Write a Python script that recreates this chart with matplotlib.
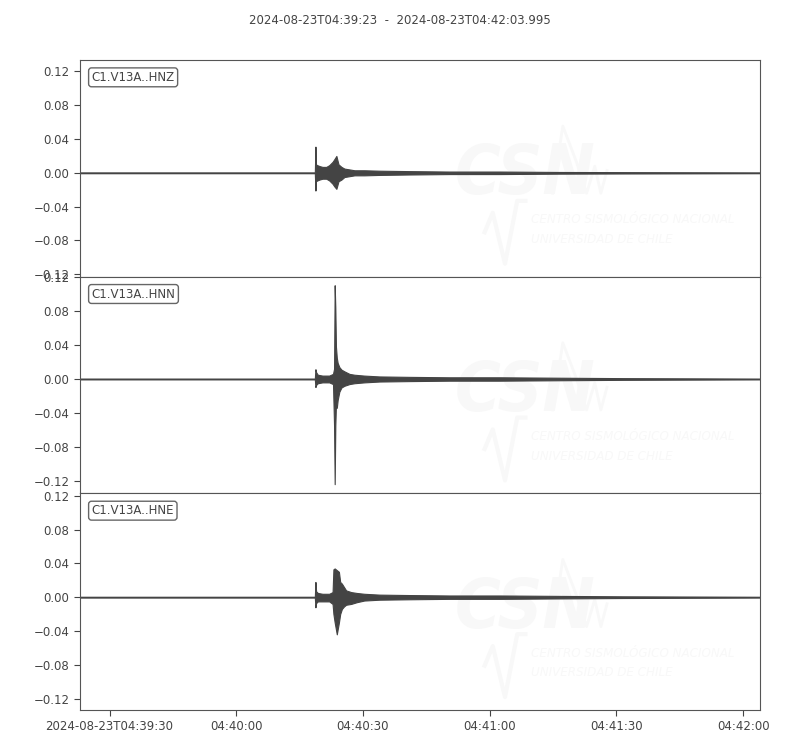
import matplotlib
matplotlib.use("Agg")
import matplotlib.pyplot as plt
import matplotlib.dates as mdates
from matplotlib.ticker import FixedLocator, FuncFormatter
from datetime import datetime, timedelta

# trace start / end
t_start = datetime(2024, 8, 23, 4, 39, 23)
title = "2024-08-23T04:39:23  -  2024-08-23T04:42:03.995"
channels = ["C1.V13A..HNZ", "C1.V13A..HNN", "C1.V13A..HNE"]

# envelopes: seconds after start, upper / lower amplitude
hnz_t = [0, 55.6, 55.74, 55.85, 56.2, 56.7, 57.4, 58.3, 59.0, 59.8, 60.2, 60.7,
         61.2, 61.9, 62.6, 63.8, 65.0, 67.3, 70.9, 78.0, 87.4, 99.3, 113.5, 128.8, 160.99]
hnz_up = [0.0005, 0.0005, 0.031, 0.010, 0.009, 0.008, 0.007, 0.007, 0.009, 0.013, 0.016, 0.020,
          0.010, 0.007, 0.005, 0.004, 0.003, 0.003, 0.0025, 0.002, 0.0015, 0.0015, 0.001, 0.0008, 0.0005]
hnz_lo = [-0.0005, -0.0005, -0.021, -0.010, -0.009, -0.008, -0.007, -0.007, -0.009, -0.013, -0.016, -0.019,
          -0.010, -0.008, -0.005, -0.004, -0.003, -0.003, -0.0025, -0.002, -0.0015, -0.0015, -0.001, -0.0008, -0.0005]

hnn_t = [0, 55.6, 55.74, 55.9, 56.3, 57.4, 59.0, 59.9, 60.15, 60.3, 60.45, 60.6, 60.8,
         61.0, 61.4, 61.9, 62.6, 63.8, 65.0, 67.3, 70.9, 78.0, 87.4, 99.3, 113.5, 128.8, 160.99]
hnn_up = [0.0005, 0.0005, 0.0115, 0.008, 0.005, 0.004, 0.004, 0.006, 0.012, 0.1105, 0.084, 0.038, 0.025,
          0.019, 0.014, 0.011, 0.009, 0.006, 0.005, 0.004, 0.003, 0.0025, 0.002, 0.002, 0.0015, 0.001, 0.0005]
hnn_lo = [-0.0005, -0.0005, -0.0095, -0.007, -0.005, -0.004, -0.004, -0.006, -0.055, -0.124, -0.055, -0.030, -0.034,
          -0.025, -0.015, -0.010, -0.008, -0.006, -0.005, -0.004, -0.003, -0.0025, -0.002, -0.002, -0.0015, -0.001, -0.0005]

hne_t = [0, 55.6, 55.74, 55.9, 56.3, 57.4, 59.0, 59.8, 60.0, 60.3, 60.8, 61.3, 61.6,
         62.0, 62.5, 63.0, 64.2, 65.5, 67.3, 70.9, 78.0, 87.4, 99.3, 113.5, 128.8, 160.99]
hne_up = [0.0005, 0.0005, 0.018, 0.007, 0.005, 0.004, 0.004, 0.006, 0.033, 0.034, 0.032, 0.030, 0.018,
          0.016, 0.012, 0.008, 0.006, 0.005, 0.004, 0.003, 0.0025, 0.002, 0.002, 0.0015, 0.001, 0.0005]
hne_lo = [-0.0005, -0.0005, -0.012, -0.007, -0.005, -0.005, -0.005, -0.008, -0.020, -0.030, -0.044, -0.030, -0.020,
          -0.014, -0.011, -0.009, -0.008, -0.006, -0.004, -0.003, -0.0025, -0.002, -0.002, -0.0015, -0.001, -0.0005]

traces = [(hnz_t, hnz_up, hnz_lo), (hnn_t, hnn_up, hnn_lo), (hne_t, hne_up, hne_lo)]

# per-panel y range (not centred on zero in the picture)
y_lims = [(-0.123, 0.1336), (-0.1348, 0.1206), (-0.1336, 0.1229)]
y_ticks = [-0.12, -0.08, -0.04, 0.0, 0.04, 0.08, 0.12]
x_tick_secs = [7, 37, 67, 97, 127, 157]
t_end_sec = 160.995

col = "#444444"
wm = "#f8f8f8"

fig = plt.figure(figsize=(8, 7.5), dpi=100)
left, right, top, bottom = 0.1, 0.95, 0.92, 0.0533
h = (top - bottom) / 3


def to_num(secs):
    return mdates.date2num([t_start + timedelta(seconds=s) for s in secs])


def fmt(x, pos):
    d = mdates.num2date(x)
    if pos == 0:
        return d.strftime("%Y-%m-%dT%H:%M:%S")
    return d.strftime("%H:%M:%S")


axes = []
for i, (tt, up, lo) in enumerate(traces):
    ax = fig.add_axes([left, top - (i + 1) * h, right - left, h],
                      sharex=axes[0] if axes else None)
    axes.append(ax)

    # faint CSN watermark
    ax.text(0.551, 0.47, "CSN", transform=ax.transAxes, fontsize=50, fontweight="bold",
            fontstyle="italic", fontstretch="condensed", color=wm, ha="left", va="center",
            zorder=0, family="DejaVu Sans")
    ax.text(0.663, 0.262, "CENTRO SISMOLÓGICO NACIONAL", transform=ax.transAxes,
            fontsize=9.5, fontstyle="italic", fontstretch="condensed", color=wm,
            ha="left", va="center", zorder=0, family="DejaVu Sans")
    ax.text(0.663, 0.172, "UNIVERSIDAD DE CHILE", transform=ax.transAxes,
            fontsize=9.5, fontstyle="italic", fontstretch="condensed", color=wm,
            ha="left", va="center", zorder=0, family="DejaVu Sans")
    ax.plot([0.595, 0.607, 0.625, 0.643, 0.655],
            [0.205, 0.295, 0.06, 0.35, 0.35], color=wm, lw=3,
            transform=ax.transAxes, zorder=0)
    ax.plot([0.695, 0.71, 0.73, 0.745, 0.757, 0.766, 0.775],
            [0.385, 0.695, 0.53, 0.385, 0.51, 0.385, 0.49], color=wm, lw=2,
            transform=ax.transAxes, zorder=0)

    x = to_num(tt)
    ax.fill_between(x, lo, up, facecolor=col, edgecolor=col, lw=0.8, zorder=2)

    ax.set_ylim(*y_lims[i])
    ax.set_yticks(y_ticks)
    ax.yaxis.set_major_formatter(FuncFormatter(lambda v, p: f"{v:.2f}".replace("-", "\u2212")))
    ax.text(0.017, 0.95, channels[i], transform=ax.transAxes, fontsize=8.5, color=col,
            ha="left", va="top",
            bbox=dict(boxstyle="round,pad=0.25", facecolor="white", edgecolor="#666666", lw=1))

    for s in ax.spines.values():
        s.set_color("#555555")
    ax.tick_params(axis="y", colors=col, labelsize=8.5, length=4)
    ax.tick_params(axis="x", colors=col, labelsize=8.5, length=4)

xt = to_num(x_tick_secs)
axes[0].set_xlim(to_num([0, t_end_sec]))
for ax in axes[:-1]:
    ax.tick_params(axis="x", bottom=False, labelbottom=False)
axes[-1].xaxis.set_major_locator(FixedLocator(xt))
axes[-1].xaxis.set_major_formatter(FuncFormatter(fmt))

fig.text(0.5, 0.972, title, ha="center", va="center", fontsize=8.5, color=col)

fig.savefig("out.png", dpi=100)
